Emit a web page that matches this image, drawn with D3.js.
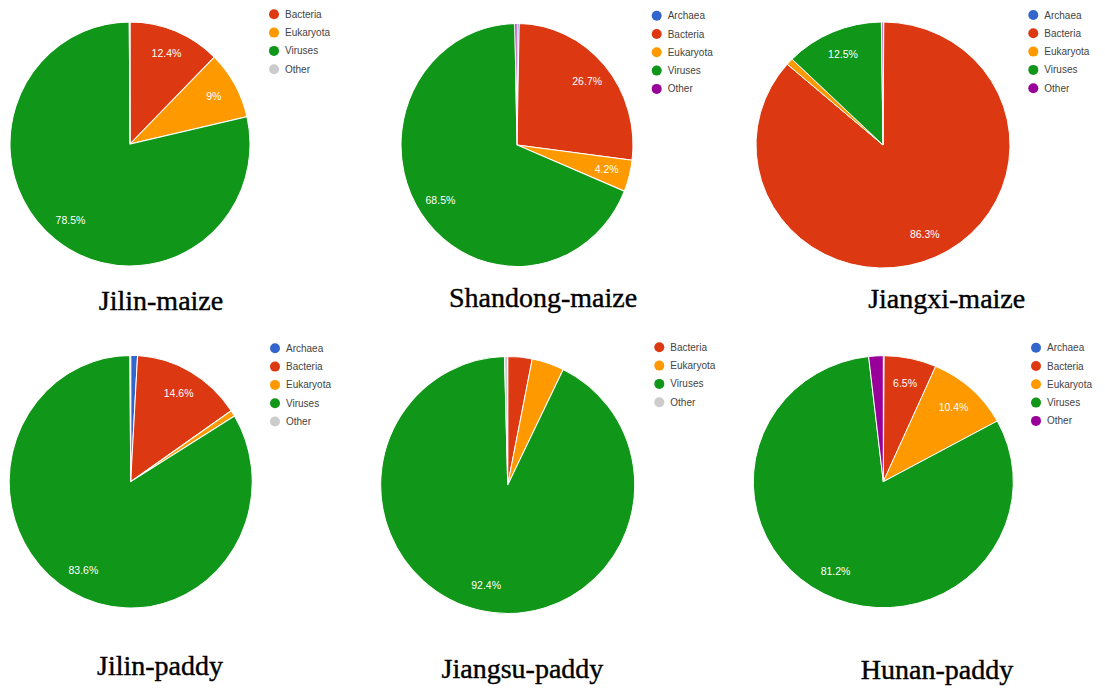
<!DOCTYPE html>
<html>
<head>
<meta charset="utf-8">
<script src="https://cdn.jsdelivr.net/npm/d3@7/dist/d3.min.js"></script>
<style>
  html, body { margin: 0; padding: 0; background: #ffffff; }
  svg { display: block; }
</style>
</head>
<body>
<svg id="chart" width="1105" height="693"></svg>
<script>
// Taxonomic groups, in slice order (clockwise from 12 o'clock)
const categories = ["Archaea", "Bacteria", "Eukaryota", "Viruses", "Other"];

// Sample names, one per pie
const sampleTitles = ["Jilin-maize", "Shandong-maize", "Jiangxi-maize",
                      "Jilin-paddy", "Jiangsu-paddy", "Hunan-paddy"];

// Relative abundance (%) per sample; null = group not listed for that sample
const jilinMaize    = [null, 12.4, 9.0, 78.5, 0.1];
const shandongMaize = [0.3, 26.7, 4.2, 68.5, 0.3];
const jiangxiMaize  = [0.1, 86.3, 0.9, 12.5, 0.2];
const jilinPaddy    = [0.9, 14.6, 0.8, 83.6, 0.1];
const jiangsuPaddy  = [null, 3.1, 4.1, 92.4, 0.4];
const hunanPaddy    = [0.1, 6.5, 10.4, 81.2, 1.8];

// Groups whose percentage is printed inside the slice
const labelledGroups = [
  ["Bacteria", "Eukaryota", "Viruses"],
  ["Bacteria", "Eukaryota", "Viruses"],
  ["Bacteria", "Viruses"],
  ["Bacteria", "Viruses"],
  ["Viruses"],
  ["Bacteria", "Eukaryota", "Viruses"]
];

const sampleValues = [jilinMaize, shandongMaize, jiangxiMaize,
                      jilinPaddy, jiangsuPaddy, hunanPaddy];

// Colour scheme ("Other" is grey in some panels, purple in others)
const baseColors = ["#3366cc", "#dc3912", "#ff9900", "#109618"];
const otherColors = ["#cccccc", "#990099", "#990099", "#cccccc", "#cccccc", "#990099"];

// Panel geometry: pie centre, radii, legend anchor, title anchor
const layout = [
  { cx: 130,   cy: 144,   rx: 120,   ry: 122,   lx: 274,    ly: 14.3,  tx: 161,   ty: 310 },
  { cx: 517,   cy: 145,   rx: 116,   ry: 121.5, lx: 656.7,  ly: 15.7,  tx: 543,   ty: 307 },
  { cx: 883,   cy: 145,   rx: 127,   ry: 123,   lx: 1033.3, ly: 15,    tx: 946.7, ty: 308 },
  { cx: 130.7, cy: 481.7, rx: 121.5, ry: 126.3, lx: 275,    ly: 348.3, tx: 160,   ty: 675 },
  { cx: 507.7, cy: 485,   rx: 127,   ry: 128.5, lx: 659.3,  ly: 347.3, tx: 522.5, ty: 678 },
  { cx: 883.3, cy: 481.7, rx: 130,   ry: 126,   lx: 1036,   ly: 347.7, tx: 937,   ty: 679 }
];

const svg = d3.select("#chart");

const pie = d3.pie()
  .sort(null)
  .value(d => d.value);

const fmt = v => (Math.round(v * 10) / 10) + "%";

sampleTitles.forEach((title, i) => {
  const L = layout[i];
  const color = d3.scaleOrdinal()
    .domain(categories)
    .range(baseColors.concat([otherColors[i]]));

  const rows = categories
    .map((c, k) => ({ cat: c, value: sampleValues[i][k] }))
    .filter(d => d.value !== null);

  const arcs = pie(rows);
  const arc = d3.arc().innerRadius(0).outerRadius(L.rx);

  const g = svg.append("g")
    .attr("transform", `translate(${L.cx},${L.cy})`);

  // slices (slightly elliptical, as printed)
  g.append("g")
    .attr("transform", `scale(1,${L.ry / L.rx})`)
    .selectAll("path")
    .data(arcs)
    .join("path")
    .attr("d", arc)
    .attr("fill", d => color(d.data.cat))
    .attr("stroke", "#ffffff")
    .attr("stroke-width", 1);

  // percentage labels
  const shown = labelledGroups[i];
  g.selectAll("text.pct")
    .data(arcs.filter(d => shown.includes(d.data.cat)))
    .join("text")
    .attr("class", "pct")
    .attr("x", d => 0.8 * L.rx * Math.sin((d.startAngle + d.endAngle) / 2))
    .attr("y", d => -0.8 * L.ry * Math.cos((d.startAngle + d.endAngle) / 2))
    .attr("dy", "0.35em")
    .attr("text-anchor", "middle")
    .attr("font-family", "Arial, 'Liberation Sans', sans-serif")
    .attr("font-size", 10.5)
    .attr("fill", "#ffffff")
    .text(d => fmt(d.data.value));

  // legend
  const leg = svg.append("g")
    .attr("transform", `translate(${L.lx},${L.ly})`);
  const items = leg.selectAll("g")
    .data(rows)
    .join("g")
    .attr("transform", (d, k) => `translate(0,${k * 18.3})`);
  items.append("circle")
    .attr("r", 5)
    .attr("fill", d => color(d.cat));
  items.append("text")
    .attr("x", 11)
    .attr("dy", "0.35em")
    .attr("font-family", "Arial, 'Liberation Sans', sans-serif")
    .attr("font-size", 10)
    .attr("fill", "#444444")
    .text(d => d.cat);

  // sample title
  svg.append("text")
    .attr("x", L.tx)
    .attr("y", L.ty)
    .attr("text-anchor", "middle")
    .attr("font-family", "'Liberation Serif', 'Times New Roman', serif")
    .attr("font-size", 28)
    .attr("fill", "#000000")
    .attr("stroke", "#000000")
    .attr("stroke-width", 0.4)
    .text(title);
});
</script>
</body>
</html>
